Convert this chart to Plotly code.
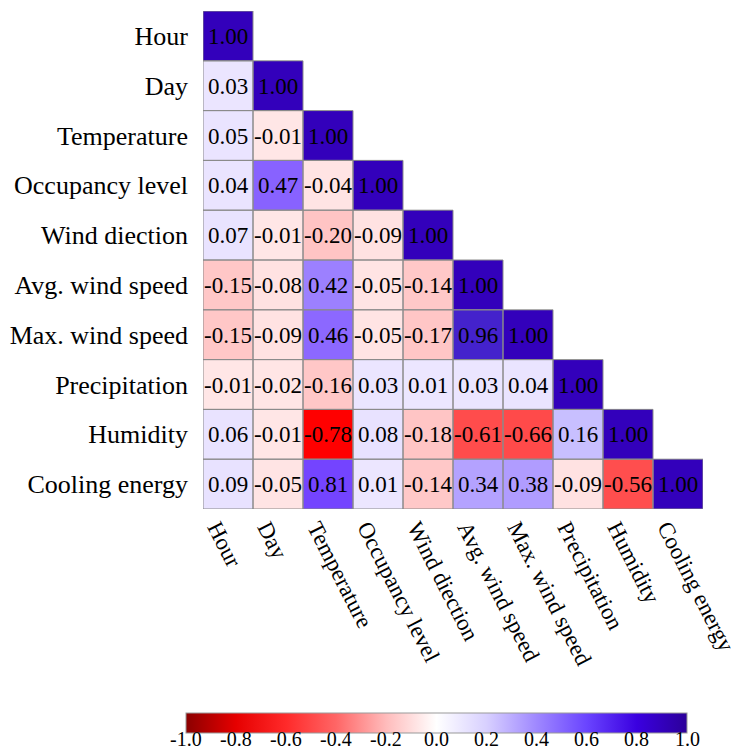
import plotly.graph_objects as go

labels = ["Hour", "Day", "Temperature", "Occupancy level", "Wind diection",
          "Avg. wind speed", "Max. wind speed", "Precipitation", "Humidity", "Cooling energy"]

corr_rows = [
    [1.00],
    [0.03, 1.00],
    [0.05, -0.01, 1.00],
    [0.04, 0.47, -0.04, 1.00],
    [0.07, -0.01, -0.20, -0.09, 1.00],
    [-0.15, -0.08, 0.42, -0.05, -0.14, 1.00],
    [-0.15, -0.09, 0.46, -0.05, -0.17, 0.96, 1.00],
    [-0.01, -0.02, -0.16, 0.03, 0.01, 0.03, 0.04, 1.00],
    [0.06, -0.01, -0.78, 0.08, -0.18, -0.61, -0.66, 0.16, 1.00],
    [0.09, -0.05, 0.81, 0.01, -0.14, 0.34, 0.38, -0.09, -0.56, 1.00],
]

cb_ticks = [-1.0, -0.8, -0.6, -0.4, -0.2, 0.0, 0.2, 0.4, 0.6, 0.8, 1.0]
cb_dashes = [-0.6, -0.4, -0.2, 0.2, 0.4, 0.6]

n = len(labels)
z = [[(corr_rows[i][j] if j <= i else None) for j in range(n)] for i in range(n)]
text = [[(f"{corr_rows[i][j]:.2f}" if j <= i else "") for j in range(n)] for i in range(n)]

cell_scale = [
    [0.0, "#8b0000"], [0.11, "#ff0000"], [0.16, "#ff3c3c"], [0.17, "#ff4a4a"],
    [0.22, "#ff4e4e"], [0.30, "#ff9090"], [0.40, "#ffc4c4"], [0.43, "#ffc8c8"],
    [0.44, "#ffe0e0"], [0.4999, "#ffe6e6"], [0.5, "#ece6ff"], [0.545, "#e8e2ff"],
    [0.58, "#c8bfff"], [0.67, "#b4a2ff"], [0.69, "#b09cff"], [0.71, "#9c80ff"],
    [0.735, "#8862ff"], [0.905, "#7444ff"], [0.98, "#4422cc"], [1.0, "#3300bb"],
]
cb_scale = [
    [0.0, "#8b0000"], [0.1, "#e60000"], [0.2, "#ff2a2a"], [0.3, "#ff6666"],
    [0.4, "#ffbcbc"], [0.5, "#ffffff"], [0.6, "#d8d0ff"], [0.7, "#9f88ff"],
    [0.8, "#6a44ff"], [0.9, "#3a00e0"], [1.0, "#2c0099"],
]

FONT = "Liberation Serif, Times New Roman, serif"

fig = go.Figure()
fig.add_trace(go.Heatmap(
    z=z, x=list(range(n)), y=list(range(n)), text=text, texttemplate="%{text}",
    textfont=dict(family=FONT, size=23, color="black"),
    colorscale=cell_scale, zmin=-1, zmax=1, showscale=False, hoverongaps=False,
))

W, H = 742, 751
PLOT_L, PLOT_T = 203, 11
pw, ph = 500, 498
PLOT_R = W - PLOT_L - pw
PLOT_B = H - PLOT_T - ph
cb_left_px, cb_len_px, cb_top_px, cb_thick = 186, 501, 713, 20
cb_label_px = 739
cb_x = (cb_left_px - PLOT_L) / pw
cb_y = (PLOT_T + ph - cb_top_px) / ph
cb_lab_y = (PLOT_T + ph - cb_label_px) / ph

fig.add_trace(go.Scatter(
    x=[0], y=[0], mode="markers", hoverinfo="skip", showlegend=False,
    marker=dict(color=[0], cmin=-1, cmax=1, colorscale=cb_scale, opacity=0, showscale=True,
                colorbar=dict(orientation="h", x=cb_x, xanchor="left", y=cb_y, yanchor="top",
                              lenmode="pixels", len=cb_len_px, thicknessmode="pixels",
                              thickness=cb_thick, xpad=0, ypad=0, outlinewidth=1,
                              outlinecolor="#999999", ticks="", showticklabels=False)),
))

def cb_pos(v):
    return cb_x + (v + 1) / 2 * cb_len_px / pw

shapes = []
for i in range(n):
    for j in range(i + 1):
        shapes.append(dict(type="rect", xref="x", yref="y", x0=j - 0.5, x1=j + 0.5,
                           y0=i - 0.5, y1=i + 0.5, line=dict(color="#8a8a8a", width=1),
                           fillcolor="rgba(0,0,0,0)"))
for v in cb_dashes:
    xp = cb_pos(v)
    shapes.append(dict(type="line", xref="paper", yref="paper", x0=xp, x1=xp,
                       y0=cb_y, y1=cb_y - cb_thick / ph,
                       line=dict(color="#555555" if abs(v) > 0.3 else "#aaaaaa", width=1, dash="dash")))

annotations = [dict(xref="paper", yref="paper", x=cb_pos(v), y=cb_lab_y, text=f"{v:.1f}",
                    showarrow=False, xanchor="center", yanchor="middle",
                    font=dict(family=FONT, size=20, color="black")) for v in cb_ticks]

fig.update_layout(
    width=W, height=H,
    margin=dict(l=PLOT_L, r=PLOT_R, t=PLOT_T, b=PLOT_B, autoexpand=False),
    paper_bgcolor="white", plot_bgcolor="white", shapes=shapes, annotations=annotations,
    font=dict(family=FONT, color="black"),
    xaxis=dict(range=[-0.5, n - 0.5], tickvals=list(range(n)), ticktext=labels, tickangle=63,
               showgrid=False, zeroline=False, showline=False, ticks="", automargin=False,
               ticklabeloverflow="allow", ticklabelshift=-11,
               tickfont=dict(family=FONT, size=23, color="black")),
    yaxis=dict(range=[n - 0.5, -0.5], tickvals=list(range(n)), ticktext=labels,
               showgrid=False, zeroline=False, showline=False, ticks="", ticklabelstandoff=14,
               automargin=False, ticklabeloverflow="allow",
               tickfont=dict(family=FONT, size=26, color="black")),
)

fig.write_html("out.html", config={"displayModeBar": False},
               post_script="document.body.style.margin='0';document.body.style.overflow='hidden';")
